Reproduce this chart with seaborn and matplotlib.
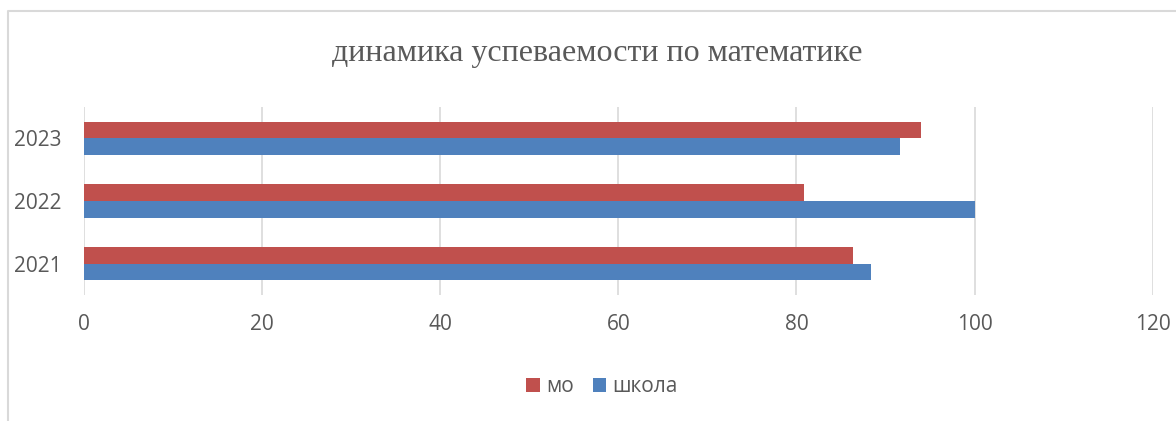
import matplotlib
matplotlib.use("Agg")
import matplotlib.pyplot as plt
from matplotlib.lines import Line2D
import pandas as pd
import seaborn as sns

years = ["2023", "2022", "2021"]
mo = [94.0, 80.8, 86.3]
school = [91.6, 100.0, 88.4]
series_names = ["мо", "школа"]
x_ticks = [0, 20, 40, 60, 80, 100, 120]
title = "динамика успеваемости по математике"


def build_frame():
    df = pd.DataFrame({"year": years, "мо": mo, "школа": school})
    df = pd.melt(df, id_vars=["year"], value_vars=series_names)
    return df.rename(columns={"variable": "series", "value": "pct"})


def plot_data(df):
    sns.set_theme(style="white")
    plt.rcParams["font.family"] = ["Open Sans", "DejaVu Sans"]
    text_color = "#595959"
    grid_color = "#D9D9D9"

    fig = plt.figure(figsize=(11.76, 4.21), dpi=100)
    ax = fig.add_axes([84 / 1176, 1 - 295 / 421, (1152.7 - 84) / 1176, 188 / 421])

    sns.barplot(data=df, x="pct", y="year", hue="series",
                order=years, hue_order=series_names,
                palette=["#C0504D", "#4F81BD"], orient="h",
                width=0.53, linewidth=0, saturation=1, ax=ax)

    ax.set_xlim(0, 120)
    ax.set_ylim(2.5, -0.5)
    ax.set_xticks(x_ticks)
    ax.set_xticklabels([str(t) for t in x_ticks])
    ax.set_xlabel("")
    ax.set_ylabel("")
    ax.grid(axis="x", color=grid_color, linewidth=1.2)
    ax.set_axisbelow(True)
    for side in ax.spines:
        ax.spines[side].set_visible(False)
    ax.tick_params(axis="x", length=0, pad=14, labelsize=15, labelcolor=text_color)
    ax.tick_params(axis="y", length=0, pad=16, labelsize=15, labelcolor=text_color)

    handles, labels = ax.get_legend_handles_labels()
    ax.get_legend().remove()
    fig.legend(handles, labels, loc="center", ncol=2, frameon=False,
               bbox_to_anchor=(602 / 1176, 1 - 387 / 421),
               fontsize=15, labelcolor=text_color,
               handlelength=0.65, handleheight=0.65,
               handletextpad=0.3, columnspacing=0.9)

    fig.text(597 / 1176, 1 - 54 / 421, title, ha="center", va="center",
             fontsize=23, color=text_color, family=["Liberation Serif", "DejaVu Serif"])

    # outer chart border (only top and left edges are visible)
    fig.add_artist(Line2D([8 / 1176, 8 / 1176, 1], [0, 1 - 11 / 421, 1 - 11 / 421],
                          transform=fig.transFigure, color=grid_color, linewidth=1.5))

    fig.savefig("out.png", dpi=100, facecolor="white")


def main():
    plot_data(build_frame())


if __name__ == "__main__":
    main()
